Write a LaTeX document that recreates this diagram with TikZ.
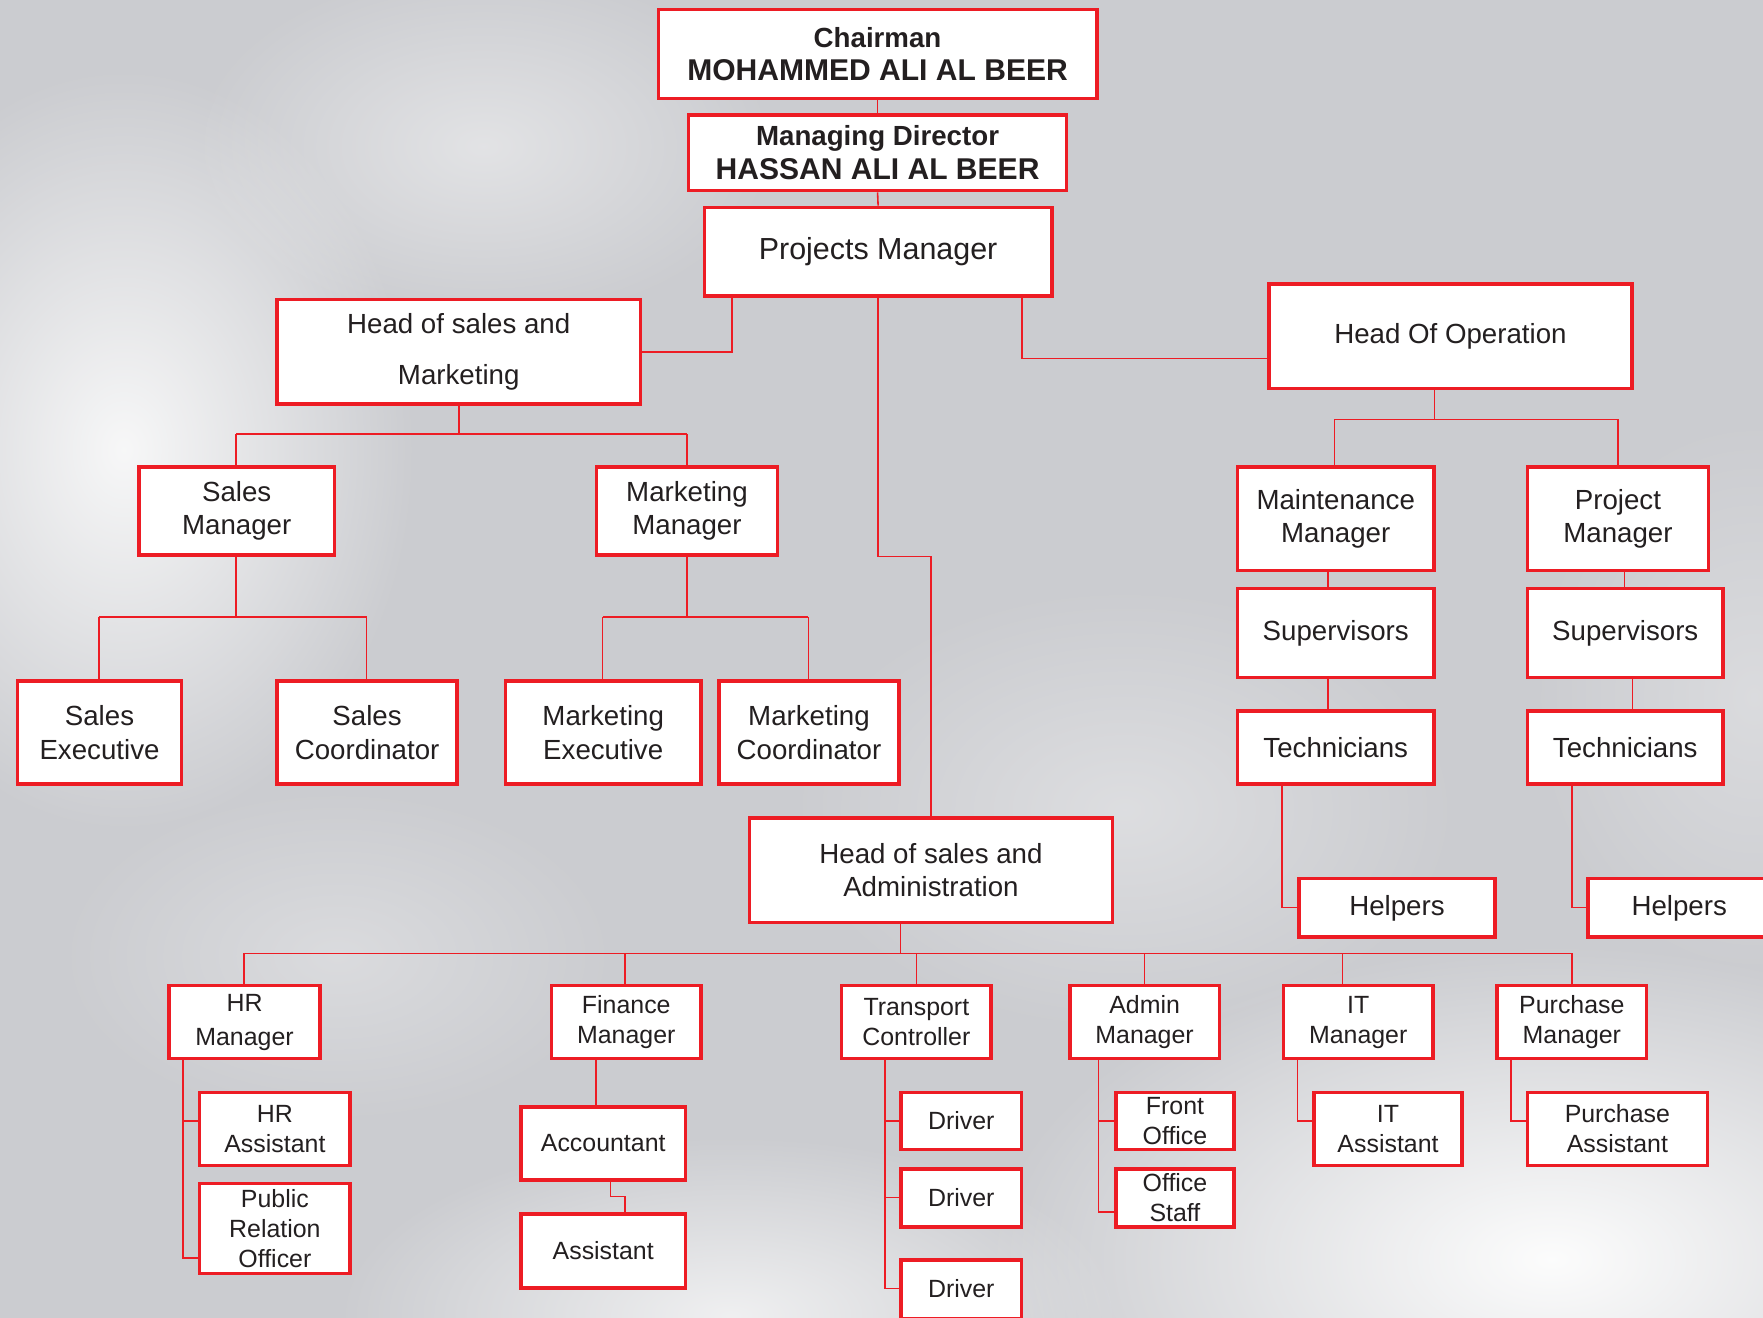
\documentclass[tikz,border=0pt]{standalone}
\usepackage{fontspec}
\setmainfont{Liberation Sans}
\usetikzlibrary{fadings}
\definecolor{orgred}{RGB}{237,28,36}
\definecolor{ink}{RGB}{35,31,32}
\definecolor{cloud}{RGB}{203,204,208}
\tikzfading[name=softglow, inner color=transparent!0, outer color=transparent!100]
\tikzset{
  box/.style={draw=orgred, line width=0.9pt, fill=white, text=ink, inner sep=0pt,
    align=center, font=\fontsize{7}{8.5}\selectfont},
  small/.style={font=\fontsize{6.3}{7.6}\selectfont},
  link/.style={draw=orgred, line width=0.4pt},
  glow/.style={fill=white, path fading=softglow},
}
\newcommand*{\OrgBox}[7][]{% #2 = name, #3..#6 = left/top/right/bottom, #7 = text
\node[box, #1, minimum width={(#5-#3-3)*0.01cm}, minimum height={(#6-#4-3)*0.01cm}]
  (#2) at ({(#3+#5)/2},{(#4+#6)/2}) {#7};
}
\newcommand*{\Fork}[5]{% #1 = parent/x, #2 = y of bar, #3/#4 = bar ends, #5 = list of child/x
\foreach \p/\x in {#1} {\draw[link] (\p.south -| \x,0) -- (\x,#2);}
\draw[link] (#3,#2) -- (#4,#2);
\foreach \c/\x in {#5} {\draw[link] (\x,#2) -- (\c.north -| \x,0);}
}
\newcommand*{\Branch}[3]{% #1 = parent, #2 = x of stem, #3 = list of child/y
\foreach \c/\y in {#3} {\draw[link] (#1.south -| #2,0) |- (\c.west |- 0,\y);}
}

\begin{document}
\begin{tikzpicture}[x=0.01cm, y=-0.01cm]

    % background
    \useasboundingbox (0,0) rectangle (1568,1172);
    \clip (0,0) rectangle (1568,1172);
    \fill[cloud] (0,0) rectangle (1568,1172);
    \fill[glow, fill opacity=0.85] (110,400) ellipse (2.6cm and 3.4cm);
    \fill[glow, fill opacity=0.45] (430,130) ellipse (2.6cm and 1.6cm);
    \fill[glow, fill opacity=0.95] (1380,1120) ellipse (5cm and 2.8cm);
    \fill[glow, fill opacity=0.7] (650,1170) ellipse (3.5cm and 1.6cm);
    \fill[glow, fill opacity=0.35] (1000,720) ellipse (3cm and 2cm);
    \fill[glow, fill opacity=0.3] (1560,620) ellipse (2cm and 2.5cm);
    \fill[glow, fill opacity=0.3] (300,850) ellipse (2.5cm and 1.5cm);

    % top
    \OrgBox{ch}{584}{7}{977}{89}{\bfseries Chairman\\
      {\fontsize{7.6}{8.5}\selectfont\bfseries MOHAMMED ALI AL BEER}}
    \OrgBox{md}{611}{101}{950}{171}{\bfseries Managing Director\\
      {\fontsize{7.6}{8.5}\selectfont\bfseries HASSAN ALI AL BEER}}
    \OrgBox[font=\fontsize{7.7}{9}\selectfont]{pm}{625}{183}{937}{265}{Projects Manager}
    \OrgBox{hsm}{245}{265}{571}{361}{Head of sales and\\[4.6pt]Marketing}
    \OrgBox{hoo}{1127}{251}{1453}{347}{Head Of Operation}

    % sales and marketing
    \OrgBox{sm}{122}{414}{299}{495}{Sales\\Manager}
    \OrgBox{mm}{529}{414}{693}{495}{Marketing\\Manager}
    \OrgBox{se}{14}{604}{163}{699}{Sales\\Executive}
    \OrgBox{sc}{245}{604}{408}{699}{Sales\\Coordinator}
    \OrgBox{me}{448}{604}{625}{699}{Marketing\\Executive}
    \OrgBox{mc}{638}{604}{801}{699}{Marketing\\Coordinator}

    % operation
    \OrgBox{mtm}{1099}{414}{1277}{509}{Maintenance\\Manager}
    \OrgBox{prm}{1357}{414}{1521}{509}{Project\\Manager}
    \OrgBox{supl}{1099}{522}{1277}{604}{Supervisors}
    \OrgBox{supr}{1357}{522}{1534}{604}{Supervisors}
    \OrgBox{tecl}{1099}{631}{1277}{699}{Technicians}
    \OrgBox{tecr}{1357}{631}{1534}{699}{Technicians}
    \OrgBox{hlpl}{1154}{780}{1331}{835}{Helpers}
    \OrgBox{hlpr}{1411}{780}{1576}{835}{Helpers}

    % administration
    \OrgBox{hsa}{665}{726}{991}{822}{Head of sales and\\Administration}
    \OrgBox[small]{hrm}{149}{875}{286}{943}{HR\\[1pt]Manager}
    \OrgBox[small]{fim}{489}{875}{625}{943}{Finance\\Manager}
    \OrgBox[small]{trc}{747}{875}{883}{943}{Transport\\Controller}
    \OrgBox[small]{adm}{950}{875}{1086}{943}{Admin\\Manager}
    \OrgBox[small]{itm}{1140}{875}{1276}{943}{IT\\Manager}
    \OrgBox[small]{pum}{1330}{875}{1466}{943}{Purchase\\Manager}
    \OrgBox[small]{hra}{176}{970}{313}{1038}{HR\\Assistant}
    \OrgBox[small]{pro}{176}{1051}{313}{1134}{Public\\Relation\\Officer}
    \OrgBox[small]{acc}{462}{983}{611}{1051}{Accountant}
    \OrgBox[small]{ast}{462}{1078}{611}{1147}{Assistant}
    \OrgBox[small]{dr1}{800}{970}{910}{1024}{Driver}
    \OrgBox[small]{dr2}{800}{1038}{910}{1093}{Driver}
    \OrgBox[small]{dr3}{800}{1119}{910}{1174}{Driver}
    \OrgBox[small]{fro}{991}{970}{1099}{1024}{Front\\Office}
    \OrgBox[small]{ost}{991}{1038}{1099}{1093}{Office\\Staff}
    \OrgBox[small]{ita}{1167}{970}{1302}{1038}{IT\\Assistant}
    \OrgBox[small]{pua}{1357}{970}{1520}{1038}{Purchase\\Assistant}

    % connectors
    \draw[link] (ch.south) -- (md.north);
    \draw[link] (md.south) -- (pm.north);
    \draw[link] (pm.south -| 651,0) |- (hsm.east);
    \draw[link] (pm.south -| 909,0) |- (hoo.west |- 0,319);
    \draw[link] (pm.south) |- (828,495) -- (hsa.north);
    \Fork{hsm/408}{386}{210}{611}{sm/210, mm/611}
    \Fork{sm/210}{549}{88}{326}{se/88, sc/326}
    \Fork{mm/611}{549}{536}{719}{me/536, mc/719}
    \Fork{hoo/1276}{373}{1187}{1439}{mtm/1187, prm/1439}
    \draw[link] (mtm.south -| 1181,0) -- (supl.north -| 1181,0);
    \draw[link] (supl.south -| 1181,0) -- (tecl.north -| 1181,0);
    \draw[link] (prm.south -| 1445,0) -- (supr.north -| 1445,0);
    \draw[link] (supr.south -| 1452,0) -- (tecr.north -| 1452,0);
    \Branch{tecl}{1140}{hlpl/807}
    \Branch{tecr}{1398}{hlpr/807}
    \Fork{hsa/801}{848}{217}{1398}{hrm/217, fim/556, trc/815, adm/1018, itm/1194, pum/1398}
    \Branch{hrm}{163}{hra/997, pro/1119}
    \draw[link] (fim.south -| 530,0) -- (acc.north -| 530,0);
    \draw[link] (acc.south -| 543,0) |- (556,1064) -- (ast.north -| 556,0);
    \Branch{trc}{787}{dr1/997, dr2/1065, dr3/1146}
    \Branch{adm}{977}{fro/997, ost/1078}
    \Branch{itm}{1154}{ita/997}
    \Branch{pum}{1344}{pua/997}
\end{tikzpicture}
\end{document}
